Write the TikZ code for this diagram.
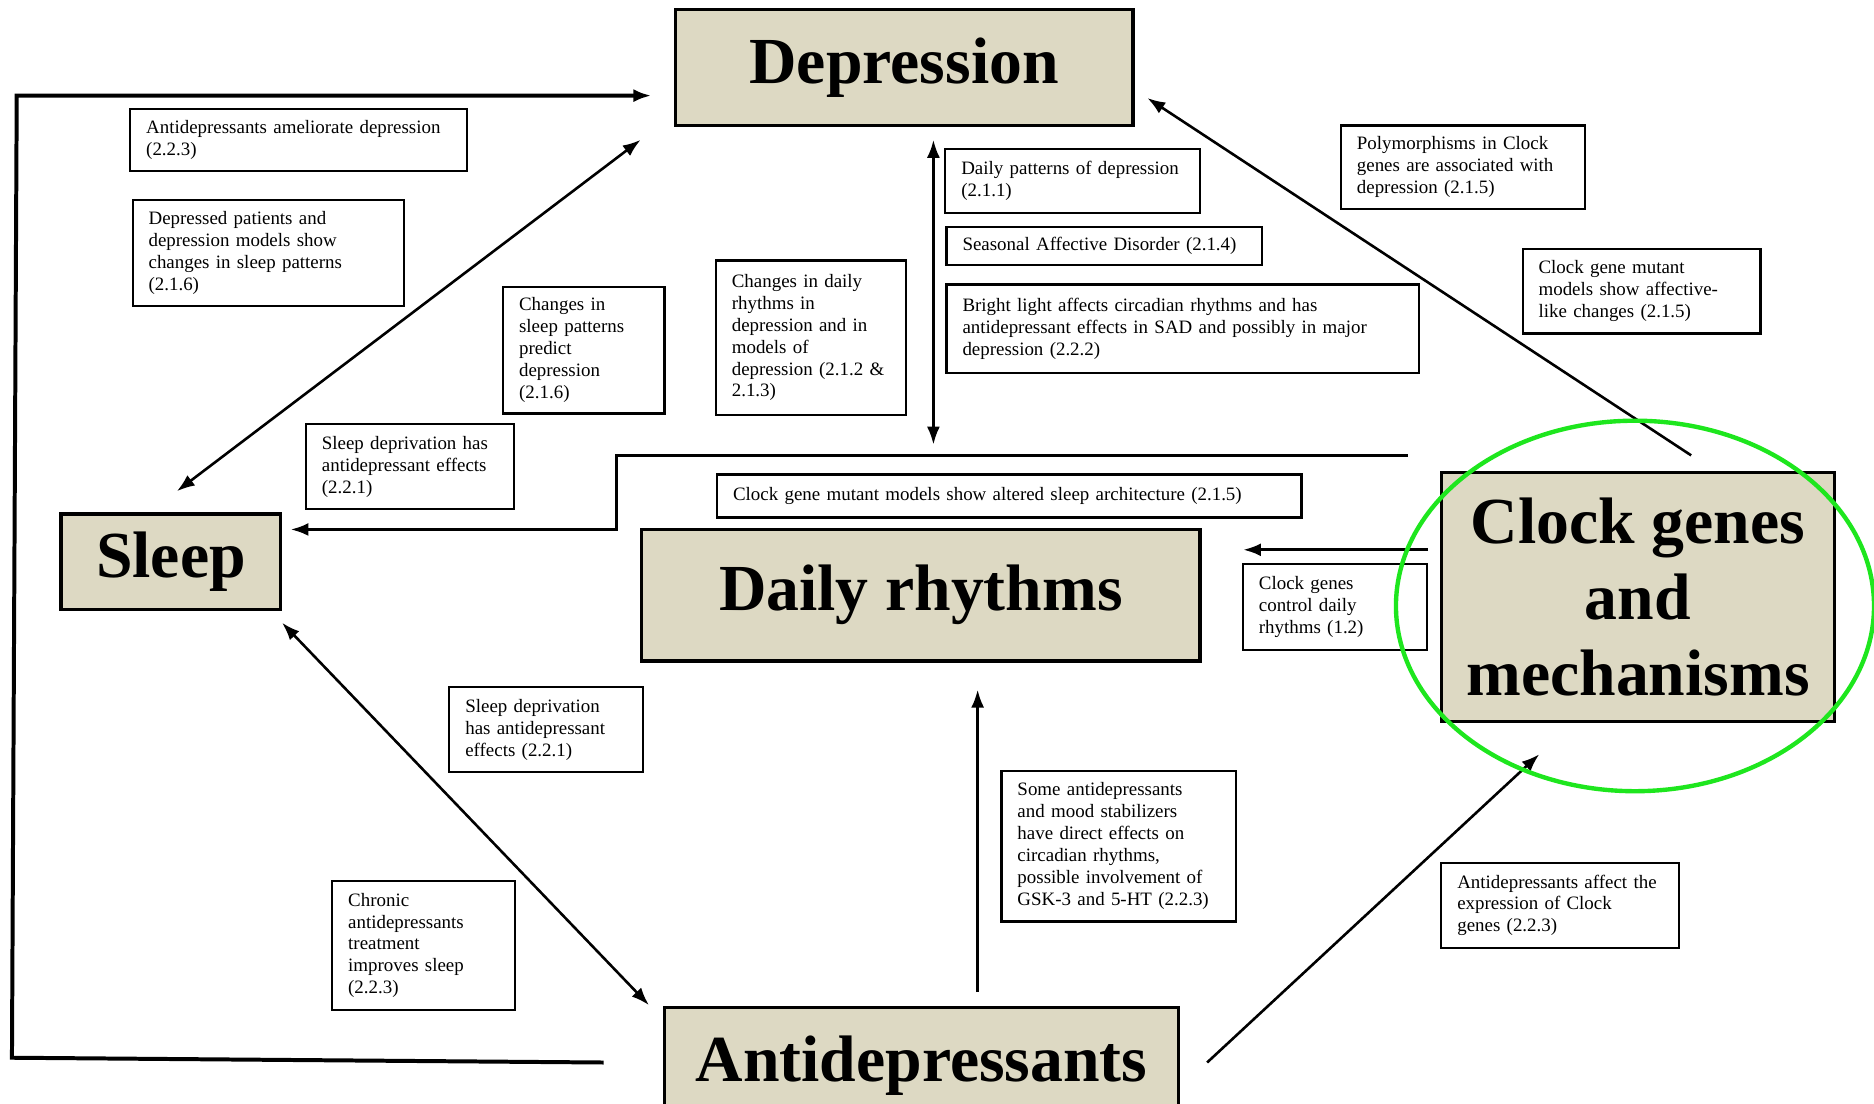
\documentclass[tikz,border=0pt]{standalone}
\usepackage{fontspec}
\setmainfont{Liberation Serif}
\usetikzlibrary{arrows.meta}
\definecolor{beige}{RGB}{221,217,195}
\definecolor{hilite}{RGB}{30,230,30}
\begin{document}
\begin{tikzpicture}[x=0.6pt,y=-0.6pt,
  mainbox/.style={draw, line width=1.6pt, fill=beige, inner sep=0pt, font=\bfseries\fontsize{33}{38}\selectfont, align=center},
  lbl/.style={draw, line width=1.1pt, fill=white, inner xsep=8pt, inner ysep=2pt, font=\fontsize{9.5}{11}\selectfont, align=left},
  conn/.style={line width=1.3pt},
  tip/.style={-{Latex[length=9pt,width=6.5pt]}},
  tips/.style={{Latex[length=9pt,width=6.5pt]}-{Latex[length=9pt,width=6.5pt]}}]
\useasboundingbox (0,0) rectangle (1568,923);

% main boxes
\node[mainbox, minimum width=229.8pt, minimum height=58.2pt] (dep) at (756.5,56.5) {Depression};
\node[mainbox, minimum width=110.4pt, minimum height=48pt] (sleep) at (143,470) {Sleep};
\node[mainbox, minimum width=280.2pt, minimum height=66pt] (daily) at (770.5,498) {Daily rhythms};
\node[mainbox, minimum width=197.4pt, minimum height=125.4pt] (clock) at (1370.5,499.5) {Clock genes\\and\\mechanisms};
\node[mainbox, minimum width=258pt, minimum height=58.2pt] (anti) at (771,891.5) {Antidepressants};

% label boxes
\node[lbl, text width=153.2pt, minimum height=31.2pt] (l1) at (250,117) {Antidepressants ameliorate depression\\(2.2.3)};
\node[lbl, text width=120.2pt, minimum height=53.4pt] (l2) at (224.5,211.5) {Depressed patients and\\depression models show\\changes in sleep patterns\\(2.1.6)};
\node[lbl, text width=65pt, minimum height=63.6pt] (l3) at (488.5,293) {Changes in\\sleep patterns\\predict\\depression\\(2.1.6)};
\node[lbl, text width=88.4pt, minimum height=42.6pt] (l4) at (343,390.5) {Sleep deprivation has\\antidepressant effects\\(2.2.1)};
\node[lbl, text width=79.4pt, minimum height=77.4pt] (l5) at (678.5,282.5) {Changes in daily\\rhythms in\\depression and in\\models of\\depression (2.1.2 \&\\2.1.3)};
\node[lbl, text width=111.8pt, minimum height=31.8pt] (l6) at (897.5,151.5) {Daily patterns of depression\\(2.1.1)};
\node[lbl, text width=142.4pt, minimum height=19.2pt] (l7) at (924,206) {Seasonal Affective Disorder (2.1.4)};
\node[lbl, text width=221pt, minimum height=44.4pt] (l8) at (989.5,275) {Bright light affects circadian rhythms and has\\antidepressant effects in SAD and possibly in major\\depression (2.2.2)};
\node[lbl, text width=106.4pt, minimum height=42pt] (l9) at (1224,140) {Polymorphisms in Clock\\genes are associated with\\depression (2.1.5)};
\node[lbl, text width=103.4pt, minimum height=42.6pt] (l10) at (1373.5,243.5) {Clock gene mutant\\models show affective-\\like changes (2.1.5)};
\node[lbl, text width=277.4pt, minimum height=21.6pt] (l11) at (844.5,415) {Clock gene mutant models show altered sleep architecture (2.1.5)};
\node[lbl, text width=76.4pt, minimum height=43.2pt] (l12) at (1117,508) {Clock genes\\control daily\\rhythms (1.2)};
\node[lbl, text width=81.2pt, minimum height=42.6pt] (l13) at (457,610.5) {Sleep deprivation\\has antidepressant\\effects (2.2.1)};
\node[lbl, text width=75.8pt, minimum height=64.8pt] (l14) at (354.5,791) {Chronic\\antidepressants\\treatment\\improves sleep\\(2.2.3)};
\node[lbl, text width=101.6pt, minimum height=75.6pt] (l15) at (936,708) {Some antidepressants\\and mood stabilizers\\have direct effects on\\circadian rhythms,\\possible involvement of\\GSK-3 and 5-HT (2.2.3)};
\node[lbl, text width=103.4pt, minimum height=42.6pt] (l16) at (1305.5,757.5) {Antidepressants affect the\\expression of Clock\\genes (2.2.3)};

% connector end points
\coordinate (loopA) at (505,889);
\coordinate (loopB) at (10,885);
\coordinate (loopC) at (14,80);
\coordinate (loopD) at (545,80);
\coordinate (sdA) at (148,411);
\coordinate (sdB) at (536,117);
\coordinate (ddA) at (781,117);
\coordinate (ddB) at (781,372);
\coordinate (csA) at (1178,381);
\coordinate (csB) at (516,381);
\coordinate (csC) at (516,443);
\coordinate (csD) at (243,443);
\coordinate (cdA) at (1415,381);
\coordinate (cdB) at (960,82);
\coordinate (crA) at (1195,460);
\coordinate (crB) at (1040,460);
\coordinate (arA) at (818,830);
\coordinate (arB) at (818,577);
\coordinate (acA) at (1010,889);
\coordinate (acB) at (1288,631);
\coordinate (saA) at (236,521);
\coordinate (saB) at (543,841);

% connectors
\draw[conn, line width=2pt, tip] (loopA) -- (loopB) -- (loopC) -- (loopD);
\draw[conn, tips] (sdA) -- (sdB);
\draw[conn, tips] (ddA) -- (ddB);
\draw[conn, line width=1.6pt, tip] (csA) -- (csB) -- (csC) -- (csD);
\draw[conn, tip] (cdA) -- (cdB);
\draw[conn, line width=1.6pt, tip] (crA) -- (crB);
\draw[conn, tip] (arA) -- (arB);
\draw[conn, tip] (acA) -- (acB);
\draw[conn, tips] (saA) -- (saB);

% highlight
\draw[hilite, line width=2.2pt] (1368,507) ellipse [x radius=120pt, y radius=93pt];
\end{tikzpicture}
\end{document}
